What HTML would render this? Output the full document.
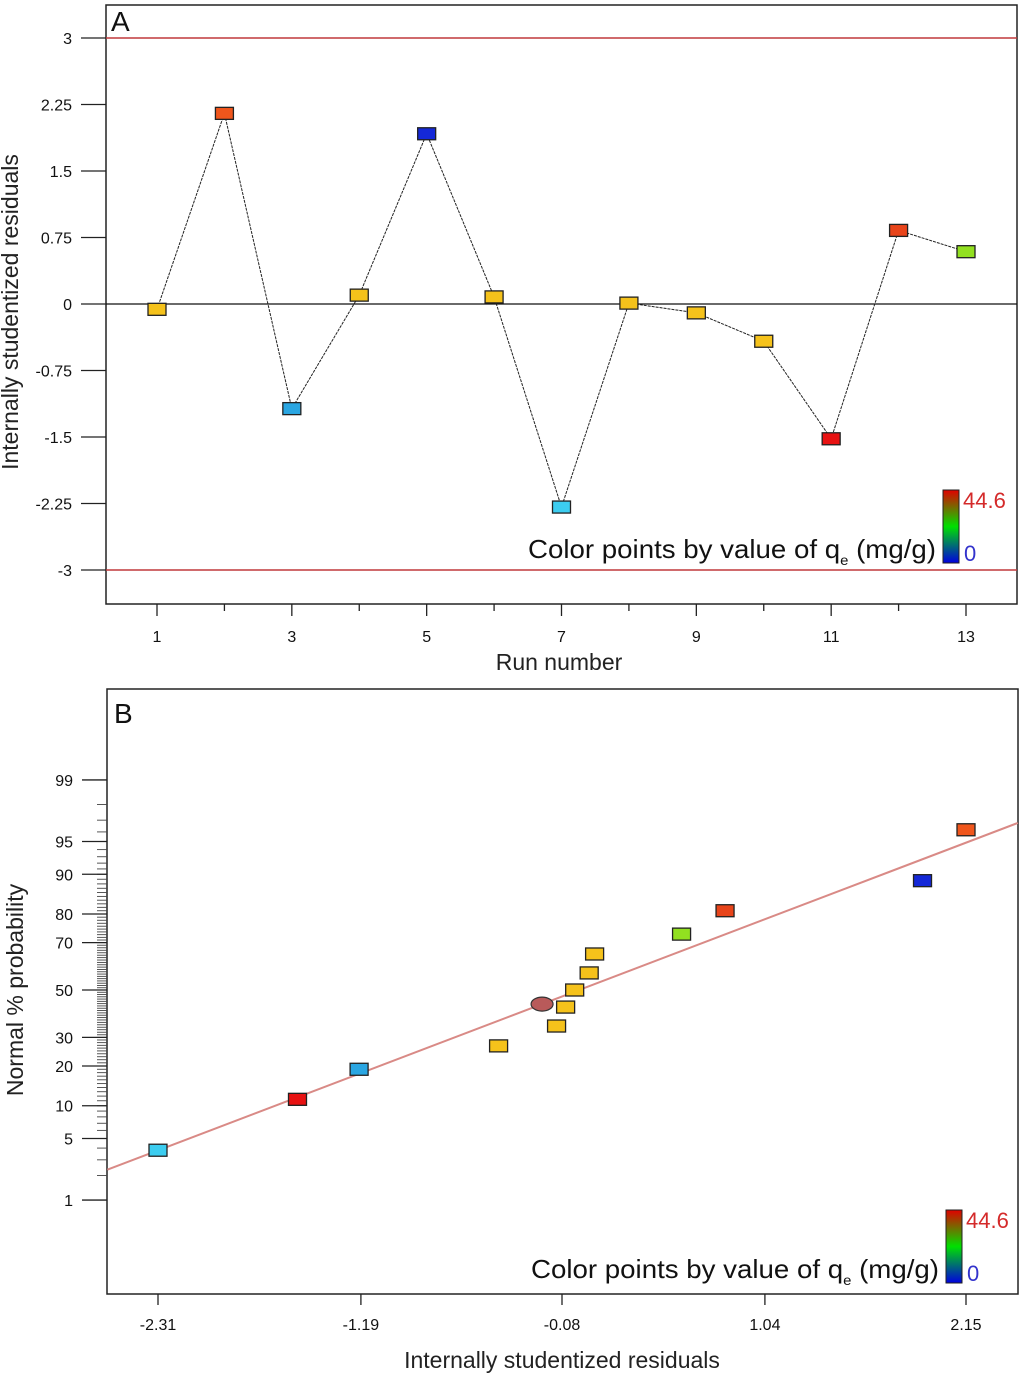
<!DOCTYPE html>
<html><head><meta charset="utf-8">
<style>
html,body{margin:0;padding:0;background:#fff;}
svg{display:block;font-family:"Liberation Sans",Arial,sans-serif;}
</style></head>
<body>
<svg id="chart" width="1024" height="1373" viewBox="0 0 1024 1373" xmlns="http://www.w3.org/2000/svg">
<defs>
<linearGradient id="cb" x1="0" y1="1" x2="0" y2="0">
<stop offset="0" stop-color="#0000e0"/><stop offset="0.5" stop-color="#00e000"/><stop offset="1" stop-color="#e00000"/>
</linearGradient>
</defs>
<g id="panelA"></g>
<g id="panelB"></g>
</svg>
<script>
// ---- Panel A data ----
const runs = [1,2,3,4,5,6,7,8,9,10,11,12,13];
const residualsA = [-0.06,2.15,-1.18,0.10,1.92,0.08,-2.29,0.01,-0.10,-0.42,-1.52,0.83,0.59];
const colorsA = ["#f5c21b","#f0561c","#2aa6e2","#f5c21b","#1428d8","#f5c21b","#3ccdf0","#f5c21b","#f5c21b","#f5c21b","#e81212","#e8441a","#92e020"];
const yTicksA = [3,2.25,1.5,0.75,0,-0.75,-1.5,-2.25,-3];
const xLabelRunsA = [1,3,5,7,9,11,13];
const limitsA = [3,-3];

// ---- Panel B data ----
const residualsB = [-2.31,-1.54,-1.20,-0.43,-0.11,-0.06,-0.01,0.07,0.10,0.58,0.82,1.91,2.15];
const probsB = [3.8,11.3,19,26.8,34.5,42.5,50,57.5,65.5,73.2,81,88.7,96.2];
const colorsB = ["#3ccdf0","#e81212","#2aa6e2","#f5c21b","#f5c21b","#f5c21b","#f5c21b","#f5c21b","#f5c21b","#92e020","#e8441a","#1428d8","#f0561c"];
const centerPoint = [-0.19,43.8];
const yTicksB = [99,95,90,80,70,50,30,20,10,5,1];
const xTicksB = [-2.31,-1.19,-0.08,1.04,2.15];
const fitLineB = [[-2.59,-1.99],[2.436,1.85]]; // [residual, z-score]

const NS="http://www.w3.org/2000/svg";
function mk(parent,tag,attrs,text){const e=document.createElementNS(NS,tag);for(const k in attrs)e.setAttribute(k,attrs[k]);if(text!==undefined)e.textContent=text;parent.appendChild(e);return e;}

function probit(p){
 const a=[-39.6968302866538,220.946098424521,-275.928510446969,138.357751867269,-30.6647980661472,2.50662827745924];
 const b=[-54.4760987982241,161.585836858041,-155.698979859887,66.8013118877197,-13.2806815528857];
 const c=[-0.00778489400243029,-0.322396458041136,-2.40075827716184,-2.54973253934373,4.37466414146497,2.93816398269878];
 const d=[0.00778469570904146,0.32246712907004,2.445134137143,3.75440866190742];
 const pl=0.02425;let q,r;
 if(p<pl){q=Math.sqrt(-2*Math.log(p));return(((((c[0]*q+c[1])*q+c[2])*q+c[3])*q+c[4])*q+c[5])/((((d[0]*q+d[1])*q+d[2])*q+d[3])*q+1);}
 if(p>1-pl){q=Math.sqrt(-2*Math.log(1-p));return-(((((c[0]*q+c[1])*q+c[2])*q+c[3])*q+c[4])*q+c[5])/((((d[0]*q+d[1])*q+d[2])*q+d[3])*q+1);}
 q=p-0.5;r=q*q;return(((((a[0]*r+a[1])*r+a[2])*r+a[3])*r+a[4])*r+a[5])*q/(((((b[0]*r+b[1])*r+b[2])*r+b[3])*r+b[4])*r+1);
}

// ===== Panel A =====
(function(){
 const g=document.getElementById('panelA');
 const L=106,T=5,R=1017,B=604;
 const xA=r=>157+(r-1)*(966-157)/12;
 const yA=v=>304-v*88.67;
 let e;
 e=mk(g,'rect',{x:L,y:T,width:R-L,height:B-T,fill:'#fff',stroke:'#222','stroke-width':1.5});
 
 e=mk(g,'text',{x:111,y:31,'font-size':28,fill:'#111'},'A');
 
 limitsA.forEach(v=>{const l=mk(g,'line',{x1:L,x2:R,y1:yA(v),y2:yA(v),stroke:'#c0393b','stroke-width':1.5});
  });
 e=mk(g,'line',{x1:L,x2:R,y1:yA(0),y2:yA(0),stroke:'#111','stroke-width':1.3});
 
 yTicksA.forEach(v=>{
  const t=mk(g,'line',{x1:81,x2:L,y1:yA(v),y2:yA(v),stroke:'#222','stroke-width':1.3});
  
  const tx=mk(g,'text',{x:72,y:yA(v)+6,'font-size':16,'text-anchor':'end',fill:'#111'},String(v));
  
 });
 runs.forEach(r=>{
  const odd=xLabelRunsA.includes(r);
  const t=mk(g,'line',{x1:xA(r),x2:xA(r),y1:B,y2:B+(odd?12:7),stroke:'#222','stroke-width':1.3});
  
  if(odd){const tx=mk(g,'text',{x:xA(r),y:642,'font-size':16,'text-anchor':'middle',fill:'#111'},String(r));
   }
 });
 e=mk(g,'text',{x:559,y:670,'font-size':23,'text-anchor':'middle',fill:'#222'},'Run number');
 
 e=mk(g,'text',{x:0,y:0,'font-size':23,'text-anchor':'middle',fill:'#222',transform:'translate(18,312) rotate(-90)'},'Internally studentized residuals');
 
 const pts=runs.map((r,i)=>xA(r)+','+yA(residualsA[i])).join(' ');
 e=mk(g,'polyline',{points:pts,fill:'none',stroke:'#222','stroke-width':1,'stroke-dasharray':'3 1'});
 
 runs.forEach((r,i)=>{
  const m=mk(g,'rect',{x:xA(r)-9,y:yA(residualsA[i])-6,width:18,height:12,fill:colorsA[i],stroke:'#222','stroke-width':1.3});
  
 });
 e=mk(g,'rect',{x:943,y:490,width:16,height:73,fill:'url(#cb)',stroke:'#222','stroke-width':1});
 
 e=mk(g,'text',{x:963,y:508,'font-size':22,fill:'#d42a2a'},'44.6');
 
 e=mk(g,'text',{x:964,y:561,'font-size':22,fill:'#3333cc'},'0');
 
 e=mk(g,'text',{x:528,y:558,'font-size':26,fill:'#111',textLength:408,lengthAdjust:'spacingAndGlyphs'});
 e.innerHTML='Color points by value of q<tspan font-size="14" dy="7">e</tspan><tspan dy="-7"> (mg/g)</tspan>';
 
})();

// ===== Panel B =====
(function(){
 const g=document.getElementById('panelB');
 const L=107,T=689,R=1018,B=1294;
 const xB=v=>158+(v+2.31)*(966-158)/4.46;
 const yZ=z=>990-z*90.3;
 const yB=p=>yZ(probit(p/100));
 let e;
 e=mk(g,'rect',{x:L,y:T,width:R-L,height:B-T,fill:'#fff',stroke:'#222','stroke-width':1.5});
 
 e=mk(g,'text',{x:114,y:723,'font-size':28,fill:'#111'},'B');
 
 for(let p=1;p<=99;p++){
  const t=mk(g,'line',{x1:L-10,x2:L,y1:yB(p),y2:yB(p),stroke:'#444','stroke-width':0.9});
  
 }
 yTicksB.forEach(p=>{
  const t=mk(g,'line',{x1:82,x2:L,y1:yB(p),y2:yB(p),stroke:'#222','stroke-width':1.3});
  
  const tx=mk(g,'text',{x:73,y:yB(p)+6,'font-size':16,'text-anchor':'end',fill:'#111'},String(p));
  
 });
 xTicksB.forEach(v=>{
  const t=mk(g,'line',{x1:xB(v),x2:xB(v),y1:B,y2:B+11,stroke:'#222','stroke-width':1.3});
  
  const tx=mk(g,'text',{x:xB(v),y:1330,'font-size':16,'text-anchor':'middle',fill:'#111'},v.toFixed(2));
  
 });
 e=mk(g,'text',{x:562,y:1368,'font-size':23,'text-anchor':'middle',fill:'#222'},'Internally studentized residuals');
 
 e=mk(g,'text',{x:0,y:0,'font-size':23,'text-anchor':'middle',fill:'#222',transform:'translate(23,990) rotate(-90)'},'Normal % probability');
 
 e=mk(g,'line',{x1:xB(fitLineB[0][0]),y1:yZ(fitLineB[0][1]),x2:xB(fitLineB[1][0]),y2:yZ(fitLineB[1][1]),stroke:'#d98a86','stroke-width':2});
 
 residualsB.forEach((v,i)=>{
  const m=mk(g,'rect',{x:xB(v)-9,y:yB(probsB[i])-6,width:18,height:12,fill:colorsB[i],stroke:'#222','stroke-width':1.3});
  
 });
 e=mk(g,'ellipse',{cx:xB(centerPoint[0]),cy:yB(centerPoint[1]),rx:11,ry:7,fill:'#b95a5a',stroke:'#333','stroke-width':1.2});
 
 e=mk(g,'rect',{x:946,y:1210,width:16,height:73,fill:'url(#cb)',stroke:'#222','stroke-width':1});
 
 e=mk(g,'text',{x:966,y:1228,'font-size':22,fill:'#d42a2a'},'44.6');
 
 e=mk(g,'text',{x:967,y:1281,'font-size':22,fill:'#3333cc'},'0');
 
 e=mk(g,'text',{x:531,y:1278,'font-size':26,fill:'#111',textLength:408,lengthAdjust:'spacingAndGlyphs'});
 e.innerHTML='Color points by value of q<tspan font-size="14" dy="7">e</tspan><tspan dy="-7"> (mg/g)</tspan>';
 
})();
</script>
</body></html>
